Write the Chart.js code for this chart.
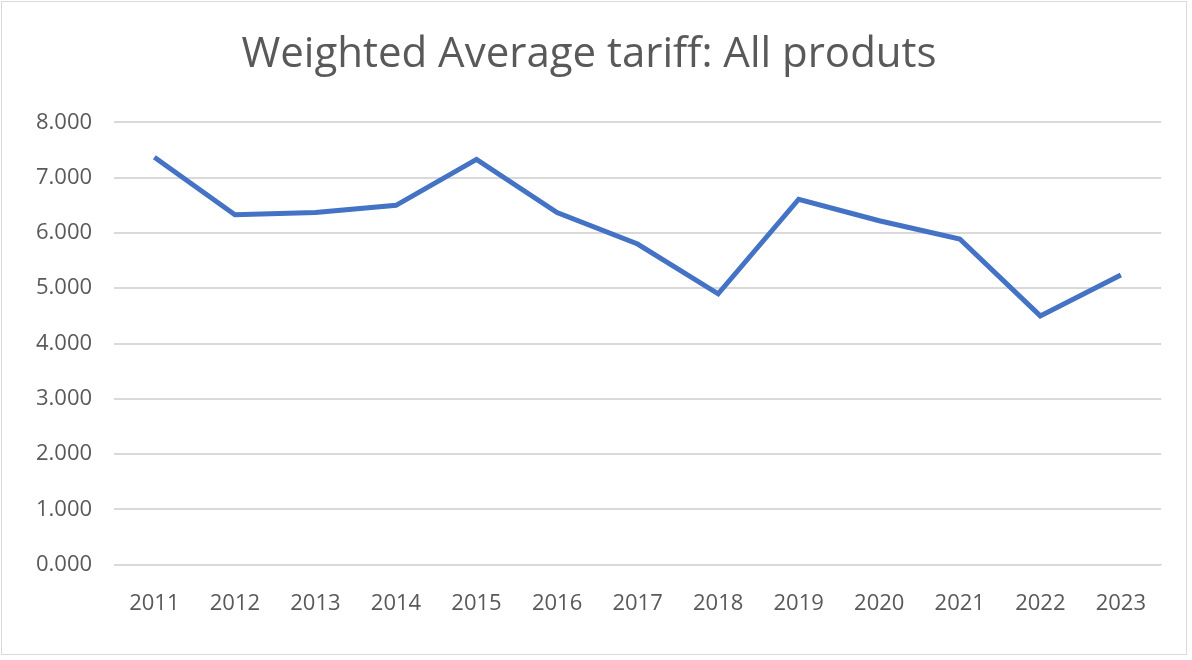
<!DOCTYPE html>
<html lang="en">
<head>
<meta charset="UTF-8">
<title>Weighted Average tariff</title>
<script src="https://cdn.jsdelivr.net/npm/chart.js"></script>
<style>
    html, body { margin: 0; padding: 0; background: #fff; }
    .frame {
        position: absolute; left: 1px; top: 1px; width: 1186px; height: 654px;
        border: 1px solid #d9d9d9; box-sizing: border-box;
    }
    .wrap { position: absolute; left: 14px; top: 30px; width: 1150px; height: 605px; }
</style>
</head>
<body>
<div class="frame"></div>
<div class="wrap"><canvas id="chart"></canvas></div>
<script>
    const years = ['2011', '2012', '2013', '2014', '2015', '2016', '2017', '2018', '2019', '2020', '2021', '2022', '2023'];
    const tariff = [7.37, 6.33, 6.37, 6.50, 7.33, 6.37, 5.80, 4.90, 6.61, 6.22, 5.89, 4.50, 5.24];

    new Chart(document.getElementById('chart'), {
        type: 'line',
        data: {
            labels: years,
            datasets: [{
                data: tariff,
                borderColor: '#4472c4',
                borderWidth: 5,
                pointRadius: 0,
                tension: 0
            }]
        },
        options: {
            responsive: true,
            maintainAspectRatio: false,
            animation: false,
            layout: { padding: { left: 0, right: 0, bottom: 0 } },
            plugins: {
                legend: { display: false },
                tooltip: { enabled: false },
                title: {
                    display: true,
                    text: 'Weighted Average tariff: All produts',
                    color: '#595959',
                    font: { family: 'Open Sans', size: 42, weight: 'normal' },
                    padding: { top: 0, bottom: 42 }
                }
            },
            scales: {
                x: {
                    offset: true,
                    grid: { display: false },
                    border: { color: '#d9d9d9' },
                    ticks: { color: '#595959', font: { family: 'Open Sans', size: 22 }, padding: 18, maxRotation: 0 }
                },
                y: {
                    min: 0, max: 8,
                    grid: { color: '#d9d9d9', lineWidth: 2, drawTicks: false },
                    border: { display: false },
                    ticks: {
                        stepSize: 1, color: '#595959', padding: 22,
                        font: { family: 'Open Sans', size: 22 },
                        callback: v => v.toFixed(3)
                    }
                }
            }
        }
    });
</script>
</body>
</html>
